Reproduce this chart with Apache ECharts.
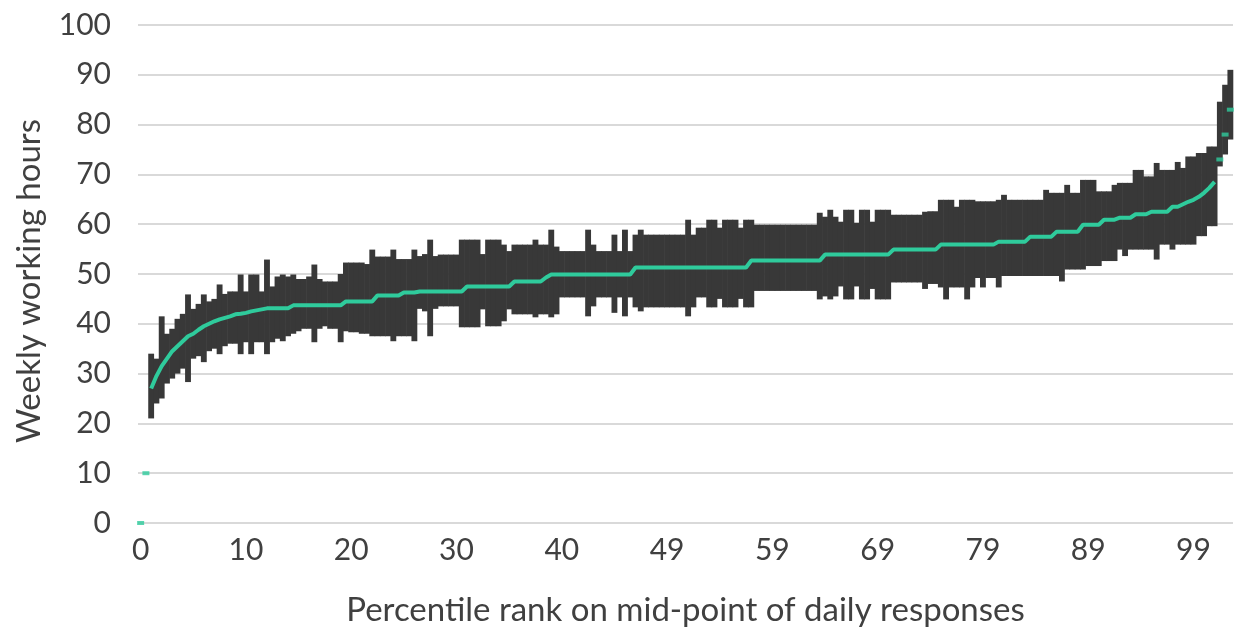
<!DOCTYPE html>
<html>
<head>
<meta charset="utf-8">
<script src="https://cdn.jsdelivr.net/npm/echarts@6/dist/echarts.min.js"></script>
<style>
html, body { margin: 0; padding: 0; background: #fff; }
#chart { width: 1244px; height: 632px; }
</style>
</head>
<body>
<div id="chart"></div>
<script>
// weekly working hours by percentile rank (mid-point, with low/high range per respondent group)
var ranks = [
  0,0,1,1,2,2,3,3,4,4,5,5,6,6,7,7,8,8,9,9,
  10,10,11,11,12,12,13,13,14,14,15,15,16,16,17,17,18,18,19,19,
  20,20,21,21,22,22,23,23,24,24,25,25,26,26,27,27,28,28,29,29,
  30,30,31,31,32,32,33,33,34,34,35,35,36,36,37,37,38,38,39,39,
  40,40,41,41,42,42,43,43,44,44,45,45,46,46,47,47,48,48,49,49,
  49,49,50,50,51,51,52,52,53,53,54,54,55,55,56,56,57,57,58,58,
  59,59,60,60,61,61,62,62,63,63,64,64,65,65,66,66,67,67,68,68,
  69,69,70,70,71,71,72,72,73,73,74,74,75,75,76,76,77,77,78,78,
  79,79,80,80,81,81,82,82,83,83,84,84,85,85,86,86,87,87,88,88,
  89,89,90,90,91,91,92,92,93,93,94,94,95,95,96,96,97,97,98,98,
  99,99,99,99,99,99,100,100
];

var midHours = [
  0,10,27,29.5,31.5,33,34.5,35.5,36.5,37.5,38,38.8,39.5,40,40.5,40.9,41.2,41.5,41.9,42,
  42.2,42.5,42.7,42.9,43.1,43.1,43.1,43.1,43.1,43.7,43.7,43.7,43.7,43.7,43.7,43.7,43.7,43.7,43.7,44.5,
  44.5,44.5,44.5,44.5,44.5,45.7,45.7,45.7,45.7,45.7,46.3,46.3,46.3,46.5,46.5,46.5,46.5,46.5,46.5,46.5,
  46.5,46.5,47.5,47.5,47.5,47.5,47.5,47.5,47.5,47.5,47.5,48.5,48.5,48.5,48.5,48.5,48.5,49.3,49.9,49.9,
  49.9,49.9,49.9,49.9,49.9,49.9,49.9,49.9,49.9,49.9,49.9,49.9,49.9,49.9,51.3,51.3,51.3,51.3,51.3,51.3,
  51.3,51.3,51.3,51.3,51.3,51.3,51.3,51.3,51.3,51.3,51.3,51.3,51.3,51.3,51.3,51.3,52.7,52.7,52.7,52.7,
  52.7,52.7,52.7,52.7,52.7,52.7,52.7,52.7,52.7,52.7,53.9,53.9,53.9,53.9,53.9,53.9,53.9,53.9,53.9,53.9,
  53.9,53.9,53.9,54.9,54.9,54.9,54.9,54.9,54.9,54.9,54.9,54.9,55.9,55.9,55.9,55.9,55.9,55.9,55.9,55.9,
  55.9,55.9,55.9,56.5,56.5,56.5,56.5,56.5,56.5,57.5,57.5,57.5,57.5,57.5,58.5,58.5,58.5,58.5,58.5,59.9,
  59.9,59.9,59.9,60.9,60.9,60.9,61.3,61.3,61.3,62,62,62,62.5,62.5,62.5,62.5,63.5,63.5,64,64.5,
  64.9,65.5,66.3,67.3,68.5,73,78,83
];

var lowHours = [
  null,null,21,24,25,28,29,30,31,28.3,33,33.5,32.3,34.5,35,33.9,35.5,36,36,33.9,
  36.3,33.9,36.3,36.3,33.9,36.3,37,36.5,37.5,38,38.5,39,39,36.3,39,39.5,39,39,36.3,38.5,
  38.3,38.3,38,38,37.5,37.5,37.5,37.5,36.5,37.5,37.5,37.5,36.5,43,42.5,37.5,43,43.5,43.5,43.5,
  43.5,39.3,39.3,39.3,39.3,42.9,39.5,39.5,39.5,40.5,42.9,41.9,41.9,41.9,41.9,41.3,41.9,41.9,41.3,41.9,
  45.3,45.3,45.3,45.3,45.3,41.5,43.5,45.3,45.3,45.3,42.2,45.3,41.5,45.3,43.3,42.5,43.3,43.3,43.3,43.3,
  43.3,43.3,43.3,43.3,41.5,43.3,45.3,45.3,43.3,43.3,45,43.3,43.3,43.3,45,43.3,43.3,46.6,46.6,46.6,
  46.6,46.6,46.6,46.6,46.6,46.6,46.6,46.6,46.6,44.9,45.5,44.9,45.5,47.5,44.9,44.9,47.5,44.9,44.9,47,
  44.9,44.9,44.9,48.3,48.3,48.3,48.3,48.3,48.3,47,48,48,47.3,44.9,47.3,47.3,47.3,44.9,47.3,49.2,
  47.3,49.2,49.2,47.3,49.6,49.6,49.6,49.6,49.6,49.6,49.6,49.6,49.6,49.6,49.6,48.5,50.9,50.9,50.9,50.9,
  51.6,51.6,51.6,52.6,52.6,52.6,54.9,53.6,54.9,54.9,54.9,54.9,54.9,52.9,55.9,55.9,54.9,55.9,55.9,55.9,
  55.9,57.6,57.6,59.6,59.6,71.6,74,77
];

var highHours = [
  null,null,34,33,41.5,38,39,41,42,45.9,43,44,45.9,44.5,45,47.9,46,46.5,46.5,49.9,
  46.5,49.9,49.9,46.5,52.9,47.5,49.5,49.9,49.5,49.9,49,49,49.5,51.9,49,48.5,48.5,48.5,50,52.3,
  52.3,52.3,52.3,52,54.9,53.5,53.5,53.5,54.9,53,53,53,54.9,53.6,54,56.9,53.6,53.9,53.9,53.9,
  53.9,56.9,56.9,56.9,56.9,54,56.9,56.9,56.9,55.9,54.6,55.9,55.9,55.9,55.9,56.9,55.9,55.9,58.9,55.5,
  54.6,54.6,54.6,54.6,54.6,58.9,55.9,54.6,54.6,54.6,57.9,54.6,58.9,54.6,57.9,58.9,57.9,57.9,57.9,57.9,
  57.9,57.9,57.9,57.9,60.9,57.9,59.3,59.3,60.9,60.9,59.3,60.9,60.9,60.9,59.3,60.9,60.9,59.9,59.9,59.9,
  59.9,59.9,59.9,59.9,59.9,59.9,59.9,59.9,59.9,62.3,61.5,62.9,61.5,60.5,62.9,62.9,60.3,62.9,62.9,60.5,
  62.9,62.9,62.9,61.9,61.9,61.9,61.9,61.9,61.9,62.5,62.6,62.6,64.9,64.9,64.9,63.5,64.9,64.9,64.9,64.6,
  64.6,64.6,64.6,64.9,65.9,64.9,64.9,64.9,64.9,64.9,64.9,64.9,66.9,66.3,66.3,66.3,67.9,66.3,66.3,68.9,
  68.9,68.9,66.6,66.6,66.6,67.9,68.3,68.3,68.3,70.9,70.9,69.6,69.6,72.3,70.9,70.9,70.9,72.5,71.3,73.6,
  73.6,74.3,74.3,75.6,75.6,84.6,88,91
];

// points shown as loose dashes rather than joined into the line
var looseIdx = [0, 1, 205, 206, 207];

var yTicks = [0, 100, 10];

var dom = document.getElementById('chart');
var myChart = echarts.init(dom, null, { renderer: 'canvas' });

var rangeData = ranks.map(function (r, i) { return [i, lowHours[i], highHours[i]]; });
var lineData = midHours.map(function (v, i) { return looseIdx.indexOf(i) >= 0 ? null : v; });
var dashData = looseIdx.map(function (i) { return [i, midHours[i]]; });

var textColor = '#404040';
var green = '#2fcb9c';
var fontName = 'Lato, "Open Sans", sans-serif';

var option = {
    backgroundColor: '#ffffff',
    animation: false,
    grid: { left: 138, right: 11, top: 25, bottom: 108 },
    xAxis: {
        type: 'category',
        data: ranks.map(String),
        boundaryGap: true,
        name: 'Percentile rank on mid-point of daily responses',
        nameLocation: 'middle',
        nameGap: 71,
        nameTextStyle: { color: textColor, fontSize: 33, fontFamily: fontName },
        axisLine: { show: false },
        axisTick: { show: false },
        axisLabel: { interval: 19, color: textColor, fontSize: 30, fontFamily: fontName, margin: 12 },
        splitLine: { show: false }
    },
    yAxis: {
        type: 'value',
        min: yTicks[0],
        max: yTicks[1],
        interval: yTicks[2],
        name: 'Weekly working hours',
        nameLocation: 'middle',
        nameGap: 92,
        nameTextStyle: { color: textColor, fontSize: 33, fontFamily: fontName, padding: [0, 14, 0, 0] },
        axisLine: { show: false },
        axisTick: { show: false },
        axisLabel: { color: textColor, fontSize: 30, fontFamily: fontName, margin: 27 },
        splitLine: { lineStyle: { color: '#d9d9d9', width: 2 } }
    },
    series: [
        {
            name: 'range',
            type: 'custom',
            z: 2,
            encode: { x: 0, y: [1, 2] },
            data: rangeData,
            renderItem: function (params, api) {
                var lo = api.value(1), hi = api.value(2);
                if (isNaN(lo) || isNaN(hi)) return;
                var top = api.coord([api.value(0), hi]);
                var bot = api.coord([api.value(0), lo]);
                var w = api.size([1, 0])[0] + 0.6;
                return {
                    type: 'rect',
                    shape: { x: top[0] - w / 2, y: top[1], width: w, height: bot[1] - top[1] },
                    style: { fill: '#383838' }
                };
            }
        },
        {
            name: 'mid-point',
            type: 'line',
            z: 3,
            showSymbol: false,
            connectNulls: false,
            lineStyle: { color: green, width: 4 },
            itemStyle: { color: green },
            data: lineData
        },
        {
            name: 'mid-point dashes',
            type: 'scatter',
            z: 4,
            symbol: 'rect',
            symbolSize: [7, 4],
            itemStyle: { color: green },
            data: dashData
        }
    ]
};

myChart.setOption(option, true);
</script>
</body>
</html>
